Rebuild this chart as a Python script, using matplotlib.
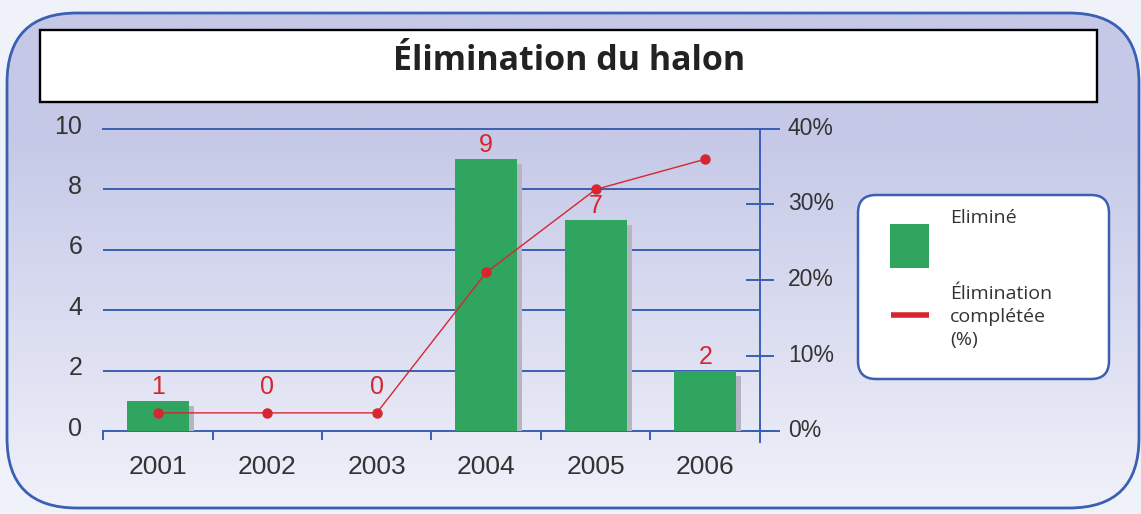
import numpy as np
import matplotlib
matplotlib.use("Agg")
import matplotlib.pyplot as plt
from matplotlib.patches import FancyBboxPatch, Rectangle
from matplotlib.lines import Line2D
from matplotlib.transforms import ScaledTranslation

# ---- data ----
years = ["2001", "2002", "2003", "2004", "2005", "2006"]
eliminated = [1, 0, 0, 9, 7, 2]
completed_pct = [2.4, 2.4, 2.4, 21.0, 32.0, 36.0]
left_ticks = [0, 2, 4, 6, 8, 10]
right_ticks = [0, 10, 20, 30, 40]
right_labels = ["0%", "10%", "20%", "30%", "40%"]
title = "Élimination du halon"
legend_bar = "Eliminé"
legend_line = ["Élimination", "complétée", "(%)"]

# ---- styles ----
W, H = 1141, 514
BLUE = "#3a5fb3"
GREEN = "#30a55f"
SHADOW = "#b4b5c2"
RED = "#d6262f"
TXT = "#333333"
SANS = ["Liberation Sans", "DejaVu Sans"]
HUM = ["Open Sans", "DejaVu Sans"]

fig = plt.figure(figsize=(W / 100, H / 100), dpi=100, facecolor="#eff3f9")

# background decoration axes in pixel coordinates
bg = fig.add_axes([0, 0, 1, 1])
bg.set_xlim(0, W)
bg.set_ylim(H, 0)
bg.axis("off")

outer = FancyBboxPatch((7, 13), 1132, 495, boxstyle="round,pad=0,rounding_size=70",
                       fc="none", ec=BLUE, lw=2.0, zorder=3)
ys = np.linspace(0, 1, 256)
top = np.array([197, 201, 231]) / 255
bot = np.array([240, 241, 250]) / 255
t = np.clip((ys - 0.25) / 0.75, 0, 1)
grad = (top[None, :] * (1 - t[:, None]) + bot[None, :] * t[:, None])[:, None, :]
im = bg.imshow(grad, extent=[7, 1139, 508, 13], aspect="auto", zorder=1, origin="upper")
clipper = FancyBboxPatch((7, 13), 1132, 495, boxstyle="round,pad=0,rounding_size=70",
                         fc="none", ec="none", transform=bg.transData)
bg.add_patch(clipper)
im.set_clip_path(clipper)
bg.add_patch(outer)
bg.set_xlim(0, W)
bg.set_ylim(H, 0)

# title box
bg.add_patch(Rectangle((40, 30), 1057, 72, fc="white", ec="black", lw=1.7, zorder=4))
bg.text(569, 70, title, ha="center", va="baseline", fontsize=24.5, fontweight="bold",
        family=HUM, color="#222222", zorder=5)

# legend box
bg.add_patch(FancyBboxPatch((858, 195), 251, 184, boxstyle="round,pad=0,rounding_size=18",
                            fc="white", ec=BLUE, lw=1.8, zorder=4))
bg.add_patch(Rectangle((890, 224), 39, 44, fc=GREEN, ec="none", zorder=5))
bg.add_line(Line2D([891, 929], [315, 315], color=RED, lw=4, zorder=5, solid_capstyle="butt"))
bg.text(950, 223, legend_bar, ha="left", va="baseline", fontsize=14, family=HUM, color=TXT, zorder=5)
for i, s in enumerate(legend_line):
    bg.text(950, 299 + 23 * i, s, ha="left", va="baseline", fontsize=14, family=HUM,
            color=TXT, zorder=5)

# ---- main chart ----
ax = fig.add_axes([103 / W, 83 / H, 657 / W, 302 / H])
ax.patch.set_alpha(0)
x = np.arange(len(years))
ax.set_xlim(-0.5, len(years) - 0.5)
ax.set_ylim(0, 10)
for s in ax.spines.values():
    s.set_visible(False)

for v in left_ticks:
    if v in (0, 10):
        ax.axhline(v, xmin=0, xmax=(779 - 103) / 657, color=BLUE, lw=1.4, clip_on=False, zorder=1)
    else:
        ax.axhline(v, color=BLUE, lw=1.4, zorder=1)
ax.plot([1, 1], [-11 / 302, 1], transform=ax.transAxes, clip_on=False, color=BLUE, lw=1.4)

shadow_tr = ax.transData + ScaledTranslation(0.05, -0.05, fig.dpi_scale_trans)
ax.bar(x, eliminated, width=0.57, color=SHADOW, zorder=2, transform=shadow_tr)
ax.bar(x, eliminated, width=0.57, color=GREEN, zorder=3)

for xi, v in zip(x, eliminated):
    ax.text(xi, max(v, 1) + 0.46, str(v), ha="center", va="center", color=RED,
            fontsize=18, family=SANS, zorder=6)

ax.set_yticks(left_ticks)
ax.set_yticklabels([str(v) for v in left_ticks], family=SANS)
ax.tick_params(axis="y", length=0, pad=15, labelsize=18, labelcolor=TXT)
up = ScaledTranslation(0, 0.05, fig.dpi_scale_trans)
for lab in ax.get_yticklabels():
    lab.set_transform(lab.get_transform() + up)

ax.set_xticks(x)
ax.set_xticklabels(years, family=SANS)
ax.tick_params(axis="x", which="major", length=0, pad=17, labelsize=19, labelcolor=TXT)
ax.set_xticks(np.arange(-0.5, len(years) - 1, 1), minor=True)
ax.tick_params(axis="x", which="minor", direction="out", length=6.5, width=1.4, color=BLUE)

ax2 = ax.twinx()
ax2.set_ylim(0, 40)
for s in ax2.spines.values():
    s.set_visible(False)
ax2.plot(x, completed_pct, color=RED, lw=1.0, marker="o", ms=6.5, zorder=5)
ax2.set_yticks(right_ticks)
ax2.set_yticklabels(right_labels, family=SANS)
ax2.tick_params(axis="y", direction="inout", length=20, width=1.4, color=BLUE, pad=10,
                labelsize=16.5, labelcolor=TXT)
up2 = ScaledTranslation(0, 0.03, fig.dpi_scale_trans)
for lab in ax2.get_yticklabels():
    lab.set_transform(lab.get_transform() + up2)

fig.savefig("out.png", dpi=100, facecolor=fig.get_facecolor())
